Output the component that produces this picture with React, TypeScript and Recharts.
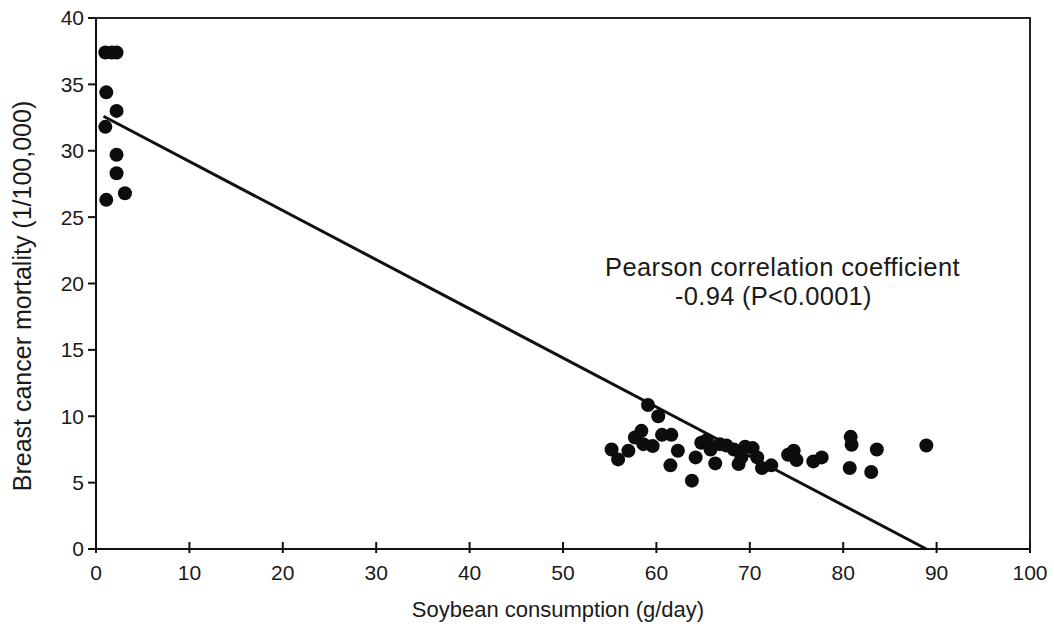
import React from "react";
import {
  ScatterChart,
  Scatter,
  XAxis,
  YAxis,
  ReferenceLine,
  ReferenceArea,
} from "recharts";

// Soybean consumption (g/day) vs breast cancer mortality (1/100,000)
const lowIntakeCountries = [
  { x: 1.0, y: 37.4 },
  { x: 1.7, y: 37.4 },
  { x: 2.2, y: 37.4 },
  { x: 1.1, y: 34.4 },
  { x: 2.2, y: 33.0 },
  { x: 1.0, y: 31.8 },
  { x: 2.2, y: 29.7 },
  { x: 2.2, y: 28.3 },
  { x: 1.1, y: 26.3 },
  { x: 3.1, y: 26.8 },
];

const highIntakeRegions = [
  { x: 55.2, y: 7.5 },
  { x: 55.9, y: 6.75 },
  { x: 57.0, y: 7.4 },
  { x: 57.7, y: 8.4 },
  { x: 58.4, y: 8.9 },
  { x: 58.6, y: 7.9 },
  { x: 59.1, y: 10.85 },
  { x: 59.6, y: 7.75 },
  { x: 60.2, y: 10.0 },
  { x: 60.6, y: 8.6 },
  { x: 61.6, y: 8.6 },
  { x: 61.5, y: 6.3 },
  { x: 62.3, y: 7.4 },
  { x: 63.8, y: 5.15 },
  { x: 64.2, y: 6.9 },
  { x: 64.8, y: 8.0 },
  { x: 65.4, y: 8.2 },
  { x: 65.8, y: 7.5 },
  { x: 66.3, y: 6.45 },
  { x: 66.8, y: 7.9 },
  { x: 67.5, y: 7.8 },
  { x: 68.3, y: 7.5 },
  { x: 68.8, y: 6.4 },
  { x: 69.1, y: 6.9 },
  { x: 69.5, y: 7.7 },
  { x: 70.3, y: 7.6 },
  { x: 70.8, y: 6.9 },
  { x: 71.3, y: 6.1 },
  { x: 72.3, y: 6.3 },
  { x: 74.1, y: 7.1 },
  { x: 74.7, y: 7.4 },
  { x: 75.0, y: 6.7 },
  { x: 76.8, y: 6.6 },
  { x: 77.7, y: 6.9 },
  { x: 80.8, y: 8.45 },
  { x: 80.9, y: 7.85 },
  { x: 80.7, y: 6.1 },
  { x: 83.0, y: 5.8 },
  { x: 83.6, y: 7.5 },
  { x: 88.9, y: 7.8 },
];

// Regression line end points
const regressionLine = [
  { x: 0.8, y: 32.6 },
  { x: 88.9, y: 0 },
];

const xTicks = [0, 10, 20, 30, 40, 50, 60, 70, 80, 90, 100];
const yTicks = [0, 5, 10, 15, 20, 25, 30, 35, 40];

const xLabel = "Soybean consumption (g/day)";
const yLabel = "Breast cancer mortality (1/100,000)";
const noteLines = ["Pearson correlation coefficient", "-0.94 (P<0.0001)"];

const FONT = "'Liberation Sans', Arial, Helvetica, sans-serif";
const INK = "#111";
const TEXT = "#1a1a1a";

const X_TICK_SIZE = 4;
const X_TICK_MARGIN = 12;

const XTick = (props: any) => {
  const { x, y, payload } = props;
  const axisY = y - X_TICK_SIZE - X_TICK_MARGIN;
  return (
    <g>
      <line x1={x} x2={x} y1={axisY - 7} y2={axisY + X_TICK_SIZE} stroke={INK} strokeWidth={2} />
      <text
        x={x}
        y={y}
        dy="0.71em"
        textAnchor="middle"
        fontSize={21}
        fontFamily={FONT}
        fill={TEXT}
      >
        {payload.value}
      </text>
    </g>
  );
};

const Dot = (props: any) => {
  const { cx, cy } = props;
  return <circle cx={cx} cy={cy} r={7} fill="#0d0d0d" />;
};

export default function App() {
  return (
    <div
      style={{
        position: "absolute",
        left: 0,
        top: 0,
        width: 1054,
        height: 630,
        background: "#fff",
      }}
    >
      <ScatterChart
        width={1054}
        height={630}
        margin={{ top: 18, right: 24, bottom: 0, left: 0 }}
      >
        <XAxis
          type="number"
          dataKey="x"
          domain={[0, 100]}
          ticks={xTicks}
          interval={0}
          height={81}
          tickSize={X_TICK_SIZE}
          tickMargin={X_TICK_MARGIN}
          tickLine={false}
          tick={<XTick />}
          axisLine={{ stroke: INK, strokeWidth: 2 }}
        />
        <YAxis
          type="number"
          dataKey="y"
          domain={[0, 40]}
          ticks={yTicks}
          interval={0}
          width={96}
          tickSize={8}
          tickMargin={4}
          tick={{ fontSize: 21, fontFamily: FONT, fill: TEXT }}
          tickLine={{ stroke: INK, strokeWidth: 2 }}
          axisLine={{ stroke: INK, strokeWidth: 2 }}
        />
        <ReferenceArea
          x1={0}
          x2={100}
          y1={0}
          y2={40}
          fill="none"
          stroke="#222"
          strokeWidth={2}
          ifOverflow="visible"
        />
        <Scatter
          data={lowIntakeCountries}
          shape={<Dot />}
          isAnimationActive={false}
        />
        <Scatter
          data={highIntakeRegions}
          shape={<Dot />}
          isAnimationActive={false}
        />
        <ReferenceLine
          segment={regressionLine}
          stroke={INK}
          strokeWidth={3}
          ifOverflow="visible"
        />
      </ScatterChart>
      <svg
        width={1054}
        height={630}
        style={{ position: "absolute", left: 0, top: 0, pointerEvents: "none" }}
      >
        <text
          x={605}
          y={276}
          fontSize={25.5}
          letterSpacing={0.4}
          fontFamily={FONT}
          fill={TEXT}
        >
          {noteLines[0]}
        </text>
        <text
          x={675}
          y={305}
          fontSize={25.5}
          letterSpacing={0.3}
          fontFamily={FONT}
          fill={TEXT}
        >
          {noteLines[1]}
        </text>
        <text
          x={558}
          y={617}
          textAnchor="middle"
          fontSize={22}
          fontFamily={FONT}
          fill={TEXT}
        >
          {xLabel}
        </text>
        <text
          transform="translate(31, 296) rotate(-90)"
          x={0}
          y={0}
          textAnchor="middle"
          fontSize={25}
          fontFamily={FONT}
          fill={TEXT}
        >
          {yLabel}
        </text>
      </svg>
    </div>
  );
}
